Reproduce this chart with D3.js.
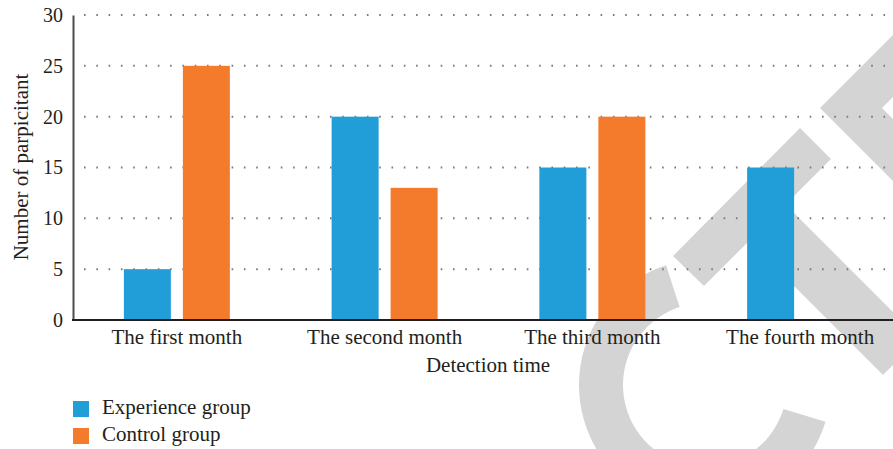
<!DOCTYPE html>
<html>
<head>
<meta charset="utf-8">
<script src="https://cdn.jsdelivr.net/npm/d3@7"></script>
<style>
  html, body { margin: 0; padding: 0; background: #fff; }
  svg { display: block; }
  text { font-family: "Liberation Serif", serif; fill: #231f20; }
</style>
</head>
<body>
<svg id="chart" width="893" height="449"></svg>
<script>
// Chart data
const categories = ["The first month", "The second month", "The third month", "The fourth month"];
const groups = ["Experience group", "Control group"];
const experienceValues = [5, 20, 15, 15];
const controlValues = [25, 13, 20, 0];
const yTicks = [0, 5, 10, 15, 20, 25, 30];
const colors = ["#219ed8", "#f47b2c"];

const svg = d3.select("#chart");
const W = 893;
const margin = { left: 73, top: 15, bottom: 320 };
const FONT = '"Liberation Serif", serif';

// Background mark (light grey emblem behind the plot)
const wm = svg.append("g").attr("fill", "#d4d4d4");
wm.append("path")
  .attr("transform", "translate(705,385)")
  .attr("d", d3.arc()({ innerRadius: 82, outerRadius: 126,
    startAngle: 107 * Math.PI / 180, endAngle: 342 * Math.PI / 180 }));
const polys = [
  [[673,256],[704,286],[831,159],[800,128]],
  [[770,189],[919.5,338.5],[883,375],[733.75,225.75]],
  [[930,-2],[820,108],[930,218],[930,156],[882,108],[930,60]]
];
polys.forEach(p => wm.append("polygon").attr("points", p.map(d => d.join(",")).join(" ")));

// Scales
const y = d3.scaleLinear().domain([0, 30]).range([margin.bottom, margin.top]);
const x0 = d3.scaleBand().domain(categories).range([margin.left, margin.left + 4 * 207.75]);
const half = 53;
const x1 = d3.scaleBand().domain(groups)
  .range([x0.bandwidth() / 2 - half, x0.bandwidth() / 2 + half])
  .paddingInner(12 / 59);

// Dotted grid lines
svg.append("g")
  .selectAll("line")
  .data(yTicks.filter(d => d > 0))
  .join("line")
  .attr("x1", margin.left + 11).attr("x2", W)
  .attr("y1", d => y(d)).attr("y2", d => y(d))
  .attr("stroke", "#7a7a7a")
  .attr("stroke-width", 2)
  .attr("stroke-dasharray", "1.6,10.7");

// Bars
const rows = categories.map((c, i) => ({ cat: c, vals: [experienceValues[i], controlValues[i]] }));
svg.append("g")
  .selectAll("g")
  .data(rows)
  .join("g")
  .attr("transform", d => `translate(${x0(d.cat)},0)`)
  .selectAll("rect")
  .data(d => d.vals.map((v, j) => ({ g: groups[j], v, j })))
  .join("rect")
  .attr("x", d => x1(d.g))
  .attr("width", x1.bandwidth())
  .attr("y", d => y(d.v))
  .attr("height", d => y(0) - y(d.v))
  .attr("fill", d => colors[d.j]);

// Y axis
const yAxis = svg.append("g")
  .attr("transform", `translate(${margin.left},0)`)
  .call(d3.axisLeft(y).tickValues(yTicks).tickSize(0).tickPadding(10));
yAxis.attr("font-family", null);
yAxis.select(".domain").attr("stroke", "#4d4d4d").attr("stroke-width", 2);
yAxis.selectAll("text")
  .style("font-family", FONT)
  .style("font-size", "20px").attr("fill", "#231f20");

// X axis
const xAxis = svg.append("g")
  .attr("transform", `translate(0,${margin.bottom})`)
  .call(d3.axisBottom(x0).tickSize(0));
xAxis.attr("font-family", null);
xAxis.select(".domain")
  .attr("d", `M${margin.left - 1},0H${W}`)
  .attr("stroke", "#231f20").attr("stroke-width", 2);
xAxis.selectAll("text")
  .attr("y", 24).attr("dy", null)
  .style("font-family", FONT)
  .style("font-size", "21px").attr("fill", "#231f20");

// Axis titles
svg.append("text")
  .attr("x", 488).attr("y", 372)
  .attr("text-anchor", "middle")
  .style("font-size", "21px")
  .text("Detection time");
svg.append("text")
  .attr("transform", "translate(28,167) rotate(-90)")
  .attr("text-anchor", "middle")
  .style("font-size", "21px")
  .text("Number of parpicitant");

// Legend
const legend = svg.append("g").attr("transform", "translate(73,401)");
groups.forEach((g, i) => {
  const row = legend.append("g").attr("transform", `translate(0,${i * 27})`);
  row.append("rect").attr("width", 16).attr("height", 16).attr("fill", colors[i]);
  row.append("text").attr("x", 29).attr("y", 13)
    .style("font-size", "21px").text(g);
});
</script>
</body>
</html>
